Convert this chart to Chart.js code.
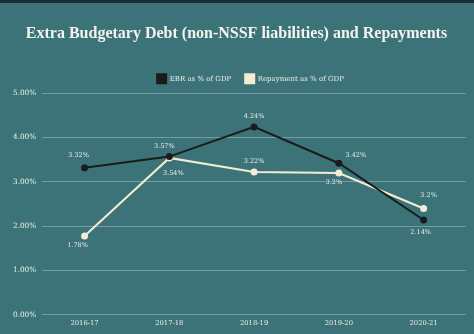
<!DOCTYPE html>
<html>
<head>
<meta charset="utf-8">
<script src="https://cdn.jsdelivr.net/npm/chart.js@4"></script>
<style>
  html, body { margin: 0; padding: 0; }
  body { width: 474px; height: 334px; background: #3b7378; overflow: hidden; }
  .wrap { position: relative; width: 474px; height: 331px; border-top: 3px solid #1c2c35; }
</style>
</head>
<body>
<div class="wrap"><canvas id="grafico" width="474" height="331"></canvas></div>
<script>
const anos = ['2016-17', '2017-18', '2018-19', '2019-20', '2020-21'];
const ebr = [3.32, 3.57, 4.24, 3.42, 2.14];
const repayment = [1.78, 3.54, 3.22, 3.2, 2.4];
// rotulos como aparecem no grafico original
const rotulosEbr = ['3.32%', '3.57%', '4.24%', '3.42%', '2.14%'];
const rotulosRep = ['1.78%', '3.54%', '3.22%', '3.2%', '3.2%'];
const ticksY = [0, 1, 2, 3, 4, 5];

const serif = "'DejaVu Serif', 'Liberation Serif', serif";
const claro = '#eef0ea';

// onde fica cada rotulo: [dx, dy] a partir do ponto
const posEbr = [[-6, -12], [-5, -10], [0, -11], [17, -8], [-3, 12]];
const posRep = [[-7, 9], [4, 15], [0, -11], [-5, 9], [5, -13]];

const rotulos = {
  id: 'rotulos',
  afterLayout(chart) {
    // legenda centrada sobre a area do grafico, nao sobre o canvas todo
    chart.legend.left += 28;
  },
  afterDatasetsDraw(chart) {
    const c = chart.ctx;
    c.save();
    c.font = '6.5px ' + serif;
    c.fillStyle = claro;
    c.textAlign = 'center';
    c.textBaseline = 'middle';
    [[0, rotulosEbr, posEbr], [1, rotulosRep, posRep]].forEach(([i, txt, pos]) => {
      chart.getDatasetMeta(i).data.forEach((p, j) => {
        c.fillText(txt[j], p.x + pos[j][0], p.y + pos[j][1]);
      });
    });
    c.restore();
  }
};

const ctx = document.querySelector('#grafico');
new Chart(ctx, {
  type: 'line',
  data: {
    labels: anos,
    datasets: [{
      label: 'EBR as % of GDP',
      data: ebr,
      borderColor: '#1b1b1b',
      backgroundColor: '#1b1b1b',
      borderWidth: 2,
      pointRadius: 3.5,
      pointBorderWidth: 0
    }, {
      label: 'Repayment as % of GDP',
      data: repayment,
      borderColor: '#f4ecd2',
      backgroundColor: '#f4ecd2',
      borderWidth: 2,
      pointRadius: 3.5,
      pointBorderWidth: 0
    }]
  },
  options: {
    responsive: false,
    animation: false,
    layout: { padding: { left: 7, right: 8, top: 10, bottom: 3 } },
    plugins: {
      title: {
        display: true,
        text: 'Extra Budgetary Debt (non-NSSF liabilities) and Repayments',
        color: '#f4f4ef',
        font: { family: "'Liberation Serif', serif", size: 16, weight: 'bold' },
        padding: { top: 11, bottom: 17 }
      },
      legend: {
        labels: {
          color: claro,
          font: { family: serif, size: 7 },
          boxWidth: 9,
          boxHeight: 9,
          padding: 14
        }
      },
      tooltip: { enabled: false }
    },
    scales: {
      x: {
        offset: true,
        grid: { display: false, drawTicks: false },
        border: { display: false },
        ticks: { color: claro, font: { family: serif, size: 6.8 }, padding: 4 }
      },
      y: {
        min: 0,
        max: 5,
        afterBuildTicks(axis) { axis.ticks = ticksY.map(v => ({ value: v })); },
        grid: { color: 'rgba(220,235,235,0.35)', drawTicks: false },
        border: { display: false },
        ticks: {
          color: claro,
          font: { family: serif, size: 7.3 },
          padding: 6,
          callback: v => v.toFixed(2) + '%'
        }
      }
    }
  },
  plugins: [rotulos]
});
</script>
</body>
</html>
